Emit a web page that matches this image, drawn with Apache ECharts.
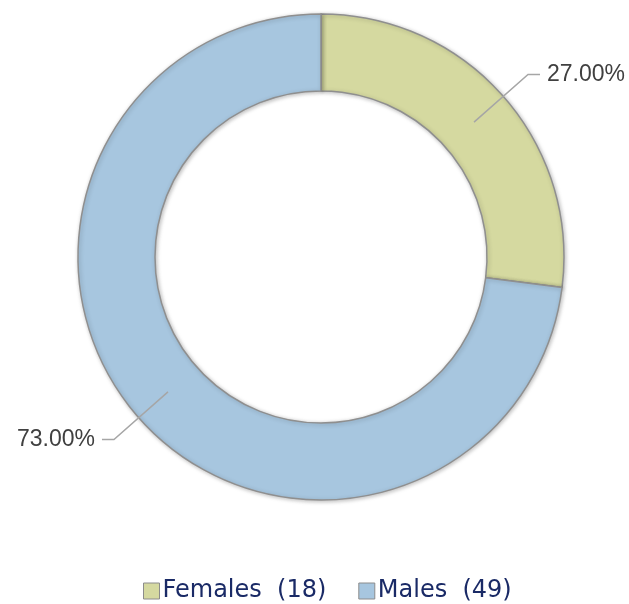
<!DOCTYPE html>
<html>
<head>
<meta charset="utf-8">
<script src="https://cdn.jsdelivr.net/npm/echarts@6/dist/echarts.min.js"></script>
<style>
  html, body { margin: 0; padding: 0; background: #fff; }
  #main { width: 629px; height: 604px; }
</style>
</head>
<body>
<div id="main"></div>
<script>
// values
var categories = ['Females', 'Males'];
var counts = [18, 49];
var percents = [27.00, 73.00];
var colors = ['#d5d9a0', '#a7c6df'];

var chart = echarts.init(document.getElementById('main'));

var ringData = [];
var labelData = [];
for (var i = 0; i < categories.length; i++) {
    ringData.push({ name: categories[i], value: percents[i], itemStyle: { color: colors[i] } });
    labelData.push({ name: categories[i], value: percents[i] });
}

var option = {
    animation: false,
    legend: {
        top: 574,
        left: 138,
        itemWidth: 16,
        itemHeight: 16,
        itemGap: 32,
        icon: 'rect',
        itemStyle: { borderColor: '#8c8c8c', borderWidth: 1 },
        textStyle: { color: '#1a2a66', fontSize: 24, fontFamily: 'DejaVu Sans, sans-serif', padding: [0, 0, 0, -2] },
        formatter: function (name) {
            return name + '  (' + counts[categories.indexOf(name)] + ')';
        },
        data: categories
    },
    series: [
        {
            // the ring itself
            type: 'pie',
            z: 2,
            center: [321, 257],
            radius: [166, 243],
            startAngle: 90,
            clockwise: true,
            silent: true,
            label: { show: false },
            labelLine: { show: false },
            itemStyle: {
                borderColor: '#8f8f8f',
                borderWidth: 1.5,
                shadowColor: 'rgba(0,0,0,0.25)',
                shadowBlur: 4,
                shadowOffsetX: 1,
                shadowOffsetY: 1
            },
            data: ringData
        },
        {
            // hidden pie so the leader lines start mid-ring
            type: 'pie',
            z: 5,
            center: [321, 257],
            radius: [0, 204],
            startAngle: 90,
            clockwise: true,
            silent: true,
            legendHoverLink: false,
            itemStyle: { color: 'rgba(0,0,0,0)', borderWidth: 0 },
            emphasis: { disabled: true },
            label: {
                show: true,
                position: 'outside',
                overflow: 'none',
                color: '#404040',
                fontSize: 23,
                fontFamily: 'Liberation Sans, Arial, sans-serif',
                distanceToLabelLine: 7,
                formatter: function (p) { return p.value.toFixed(2) + '%'; }
            },
            labelLine: {
                show: true,
                showAbove: true,
                length: 72,
                length2: 12,
                lineStyle: { color: '#a6a6a6', width: 1.5 }
            },
            data: labelData
        }
    ]
};
chart.setOption(option);
</script>
</body>
</html>
